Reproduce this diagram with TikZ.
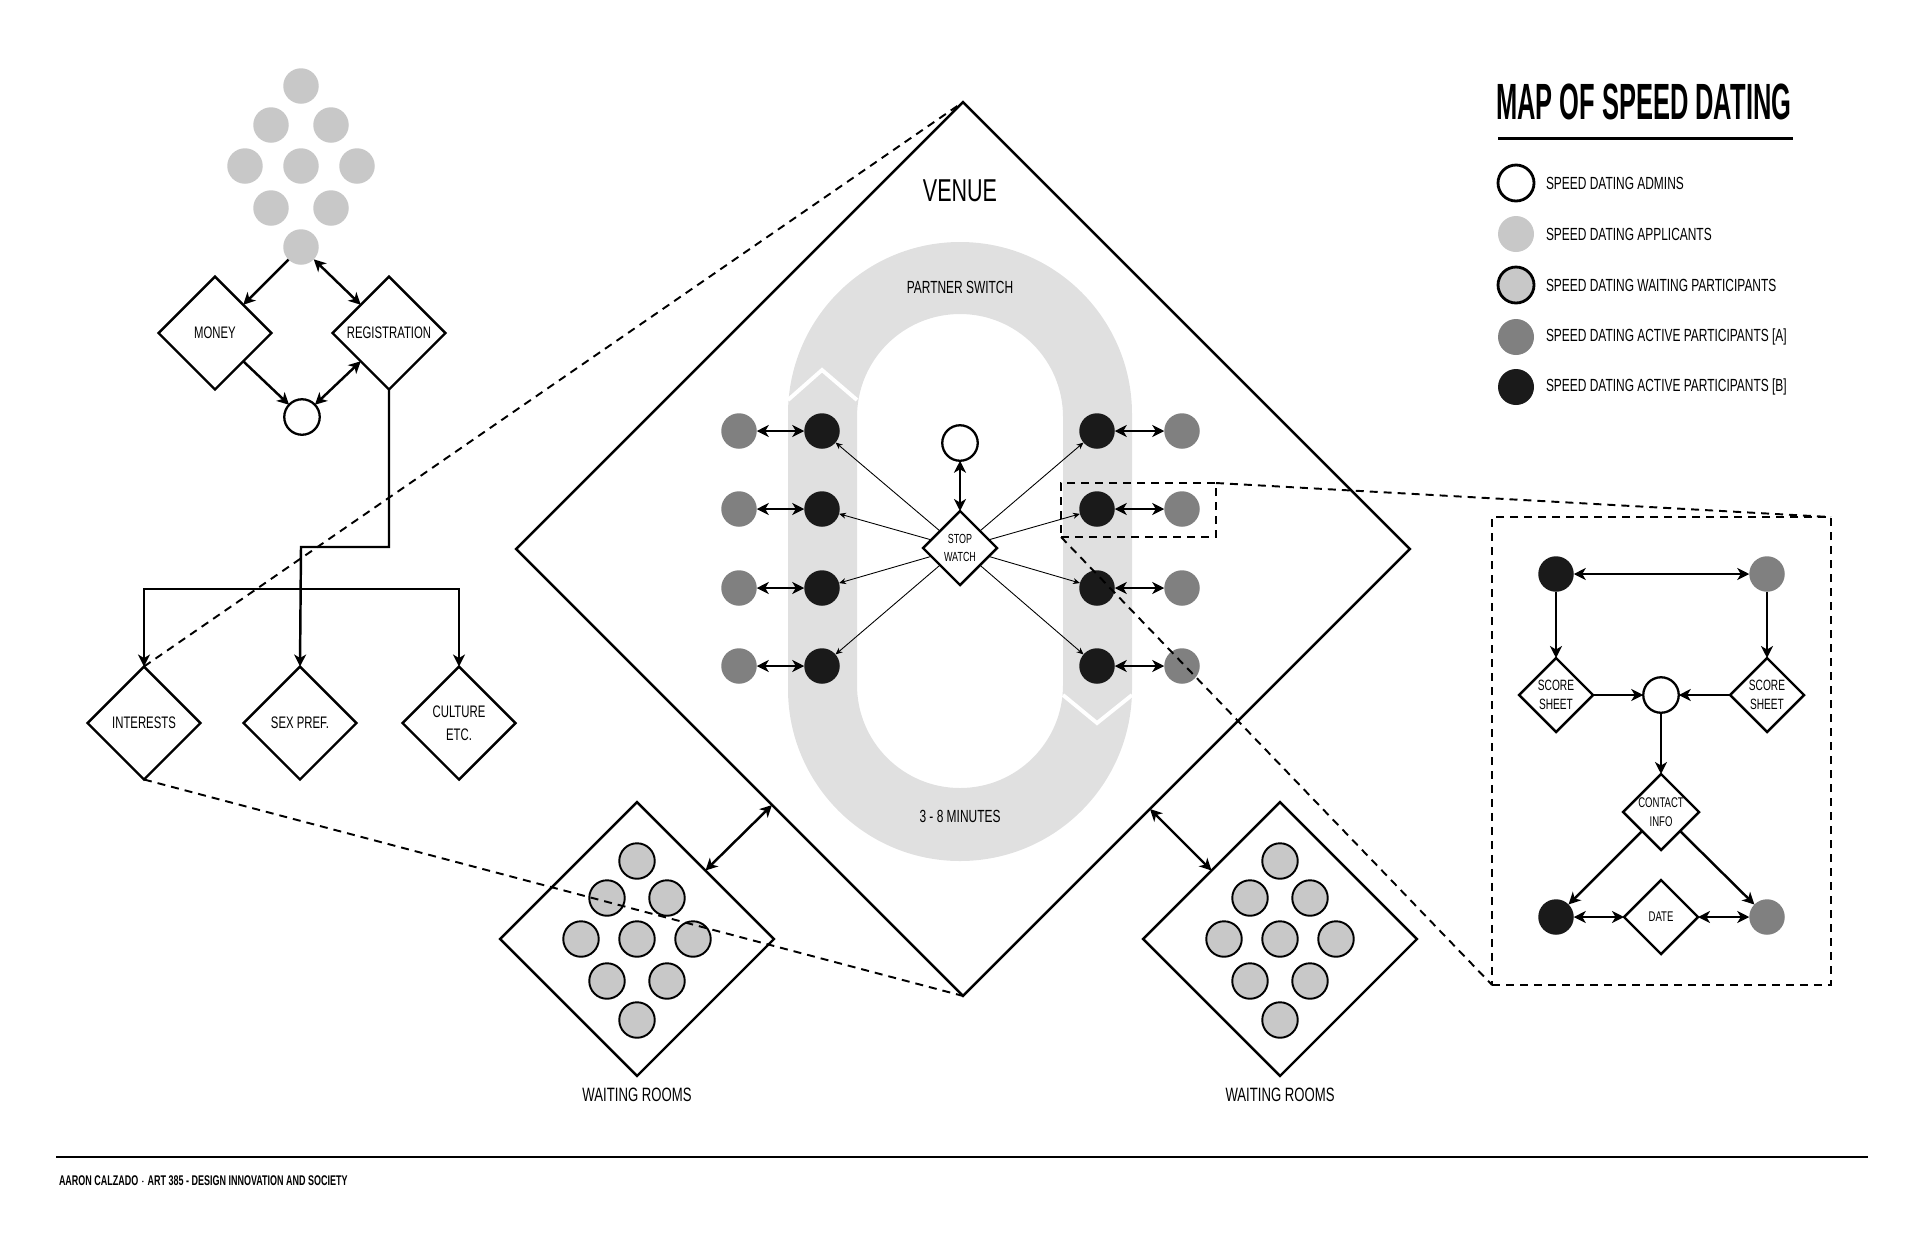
\documentclass[tikz,border=0pt]{standalone}
\usepackage{fontspec}
\setmainfont{Liberation Sans}[FakeStretch=0.68]
\newfontfamily\titlefont{Liberation Sans}[FakeStretch=0.5]
\newfontfamily\footfont{Liberation Sans}[FakeStretch=0.64]
\usetikzlibrary{shapes.geometric,arrows.meta}
\definecolor{applicant}{HTML}{C8C8C8}
\definecolor{partA}{HTML}{808080}
\definecolor{partB}{HTML}{1A1A1A}
\definecolor{trackgray}{HTML}{E0E0E0}
\begin{document}
\begin{tikzpicture}[x=0.02cm,y=-0.02cm,
    >={Stealth[length=0.24cm,width=0.24cm,inset=0.07cm]},
    every node/.style={inner sep=0,outer sep=0},
    dot/.style={circle,minimum size=0.71cm},
    admin/.style={dot,draw,line width=1.3pt,fill=white},
    appl/.style={dot,fill=applicant},
    waiter/.style={dot,draw,line width=1.1pt,fill=applicant},
    pa/.style={dot,fill=partA},
    pb/.style={dot,fill=partB},
    choice/.style={diamond,draw,line width=1.4pt,minimum size=2.26cm,
      font=\fontsize{9.5}{13}\selectfont,align=center},
    small/.style={choice,minimum size=1.48cm,font=\fontsize{8.5}{10.5}\selectfont},
    room/.style={diamond,draw,line width=1.4pt,fill=white,minimum size=5.48cm},
    spoke/.style={line width=0.5pt,-{Stealth[length=0.14cm,width=0.12cm]}},
    zoomline/.style={line width=1.1pt,dash pattern=on 0.16cm off 0.12cm},
    zoombox/.style={draw,line width=1.1pt,dash pattern=on 0.16cm off 0.12cm},
    legend/.style={anchor=west,font=\fontsize{10}{12}\selectfont}]
  \useasboundingbox (0,0) rectangle (1920,1242);

  % applicants and registration
  \foreach \dx/\dy [count=\k] in {0/-80,-30/-41,30/-41,-56/0,0/0,56/0,-30/42,30/42,0/81}
    \node[appl] (app\k) at (301+\dx,166+\dy) {};
  \draw
    (215,333) node[choice] (money) {MONEY}
    (389,333) node[choice] (reg) {REGISTRATION}
    (302,417) node[admin] (adm) {}
    (144,723) node[choice] (interests) {INTERESTS}
    (300,723) node[choice] (sexpref) {SEX PREF.}
    (459,723) node[choice] (culture) {CULTURE\\ETC.};
  \coordinate (fork) at (301,589);
  \begin{scope}[line width=1.4pt]
    \draw[->] (app9) -- (money.north east);
    \draw[<->] (app9) -- (reg.north west);
    \draw[->] (money.south east) -- (adm);
    \draw[<->] (adm) -- (reg.south west);
    \draw[->] (reg.south) |- (301,547) -- (sexpref.north);
    \draw[->] (fork) -| (interests.north);
    \draw[->] (fork) -| (culture.north);
  \end{scope}

  % venue
  \node[diamond,draw,line width=1.4pt,minimum size=17.88cm] (venue) at (963,549) {};
  \node[font=\fontsize{18}{20}\selectfont] (venuelabel) at (960,191) {VENUE};
  \fill[trackgray,even odd rule]
    [rounded corners=3.44cm] (788,242) rectangle (1132,861)
    [rounded corners=2.06cm] (857,314) rectangle (1063,788);
  \draw[white,line width=2.2pt] (788,400) -- (822,370) -- (857,400);
  \draw[white,line width=2.2pt] (1063,695) -- (1097,723) -- (1132,695);
  \node[font=\fontsize{10}{12}\selectfont] (switch) at (960,287) {PARTNER SWITCH};
  \node[font=\fontsize{10}{12}\selectfont] (minutes) at (960,816) {3 - 8 MINUTES};
  \node[small,fill=white,font=\fontsize{7.5}{10.5}\selectfont] (watch) at (960,548) {STOP\\WATCH};
  \node[admin] (host) at (960,443) {};
  \draw[<->,line width=1.4pt] (host) -- (watch);
  \foreach \y [count=\i] in {431,509,588,666} {
    \node[pa] (al\i) at (739,\y) {};
    \node[pb] (bl\i) at (822,\y) {};
    \node[pb] (br\i) at (1097,\y) {};
    \node[pa] (ar\i) at (1182,\y) {};
    \draw[<->,line width=1.4pt] (al\i) -- (bl\i);
    \draw[<->,line width=1.4pt] (br\i) -- (ar\i);
    \draw[spoke] (watch) -- (bl\i);
    \draw[spoke] (watch) -- (br\i);
  }

  % waiting rooms
  \node[room] (roomL) at (637,939) {};
  \node[room] (roomR) at (1280,939) {};
  \foreach \dx/\dy [count=\k] in {0/-78,-30/-41,30/-41,-56/0,0/0,56/0,-30/42,30/42,0/81} {
    \node[waiter] (wl\k) at (637+\dx,939+\dy) {};
    \node[waiter] (wr\k) at (1280+\dx,939+\dy) {};
  }
  \node[font=\fontsize{11}{13}\selectfont] (roomLlabel) at (637,1095) {WAITING ROOMS};
  \node[font=\fontsize{11}{13}\selectfont] (roomRlabel) at (1280,1095) {WAITING ROOMS};
  \coordinate (vsw) at (772,805);
  \coordinate (vse) at (1150,809);
  \draw[<->,line width=1.4pt] (roomL.north east) -- (vsw);
  \draw[<->,line width=1.4pt] (roomR.north west) -- (vse);

  % one date in detail
  \node[zoombox,minimum width=3.1cm,minimum height=1.08cm] (pair) at (1138.5,510) {};
  \node[zoombox,minimum width=6.78cm,minimum height=9.36cm] (detail) at (1661.5,751) {};
  \draw
    (1556,574) node[pb] (tb) {}
    (1767,574) node[pa] (tg) {}
    (1556,695) node[small] (scoreL) {SCORE\\SHEET}
    (1661,695) node[admin] (judge) {}
    (1767,695) node[small] (scoreR) {SCORE\\SHEET}
    (1661,812) node[small,minimum size=1.52cm,font=\fontsize{8}{10.8}\selectfont] (contact) {CONTACT\\INFO}
    (1556,917) node[pb] (bb) {}
    (1661,917) node[small,font=\fontsize{8}{10}\selectfont] (date) {DATE}
    (1767,917) node[pa] (bg) {};
  \begin{scope}[line width=1.4pt]
    \draw[<->] (tb) -- (tg);
    \draw[->] (tb) -- (scoreL);
    \draw[->] (tg) -- (scoreR);
    \draw[->] (scoreL) -- (judge);
    \draw[->] (scoreR) -- (judge);
    \draw[->] (judge) -- (contact);
    \draw[->] (contact.south west) -- (bb);
    \draw[->] (contact.south east) -- (bg);
    \draw[<->] (bb) -- (date);
    \draw[<->] (date) -- (bg);
  \end{scope}

  % zoom lines
  \draw[zoomline] (interests.north) -- (venue.north);
  \draw[zoomline] (interests.south) -- (venue.south);
  \draw[zoomline] (pair.north east) -- (detail.north east);
  \draw[zoomline] (pair.south west) -- (detail.south west);

  % legend
  \node[anchor=west,font=\titlefont\bfseries\fontsize{29}{32}\selectfont] (title) at (1496,102) {MAP OF SPEED DATING};
  \draw[line width=1.7pt] (1498,138) -- (1793,138);
  \draw
    (1516,183) node[admin,minimum size=0.72cm,line width=1.6pt] (key1) {}
    (1516,234) node[appl,minimum size=0.72cm] (key2) {}
    (1516,285) node[waiter,minimum size=0.72cm,line width=1.6pt] (key3) {}
    (1516,337) node[pa,minimum size=0.72cm] (key4) {}
    (1516,387) node[pb,minimum size=0.72cm] (key5) {};
  \node[legend] (text1) at (1546,183) {SPEED DATING ADMINS};
  \node[legend] (text2) at (1546,234) {SPEED DATING APPLICANTS};
  \node[legend] (text3) at (1546,285) {SPEED DATING WAITING PARTICIPANTS};
  \node[legend] (text4) at (1546,337) {SPEED DATING ACTIVE PARTICIPANTS [A]};
  \node[legend] (text5) at (1546,387) {SPEED DATING ACTIVE PARTICIPANTS [B]};

  % footer
  \draw[line width=1.3pt] (56,1157) -- (1868,1157);
  \node[anchor=west,font=\footfont\bfseries\fontsize{8}{10}\selectfont] (credit) at (59,1181)
    {AARON CALZADO $\cdot$ ART 385 - DESIGN INNOVATION AND SOCIETY};
\end{tikzpicture}
\end{document}
